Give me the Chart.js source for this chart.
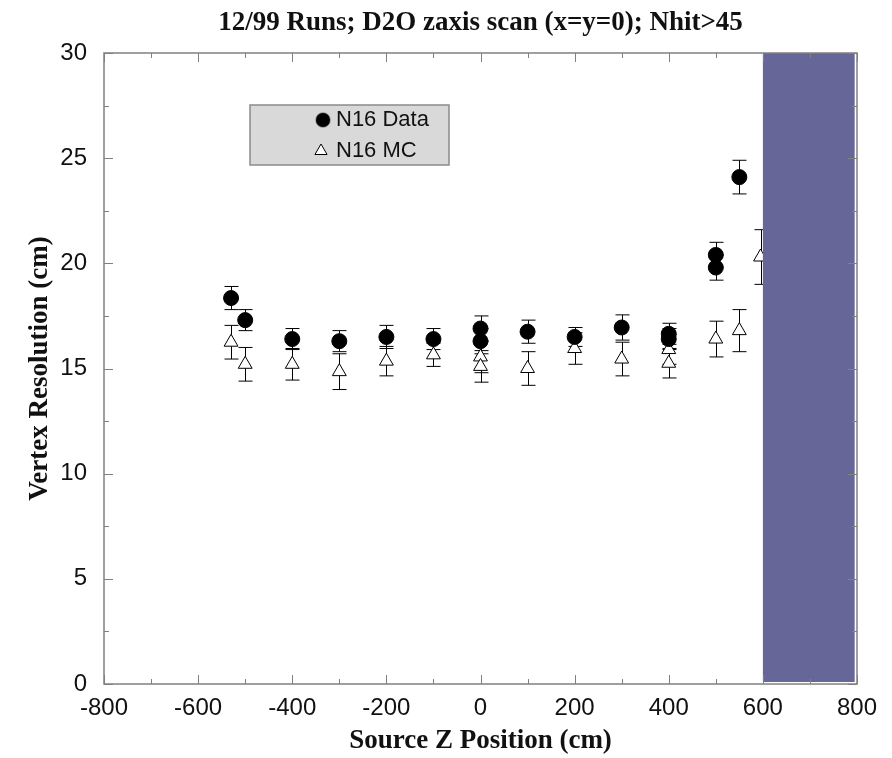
<!DOCTYPE html>
<html>
<head>
<meta charset="utf-8">
<script src="https://cdn.jsdelivr.net/npm/chart.js@4"></script>
<style>
  html, body { margin: 0; padding: 0; background: #fff; }
  #wrap { width: 892px; height: 758px; }
</style>
</head>
<body>
<div id="wrap"><canvas id="chart" width="892" height="758"></canvas></div>
<script>
// N16 data points (z position in cm, resolution in cm, error)
const dataZ   = [-530, -500, -400, -300, -200, -100, 0, 0, 100, 200, 300, 400, 400, 500, 500, 550];
const dataRes = [18.35, 17.3, 16.4, 16.3, 16.5, 16.4, 16.9, 16.3, 16.75, 16.5, 16.95, 16.65, 16.4, 20.4, 19.8, 24.1];
const dataErr = [0.55, 0.5, 0.5, 0.5, 0.55, 0.5, 0.6, 0.6, 0.55, 0.45, 0.6, 0.5, 0.5, 0.6, 0.6, 0.8];

// N16 Monte Carlo
const mcZ   = [-530, -500, -400, -300, -200, -100, 0, 0, 100, 200, 300, 400, 400, 500, 550, 595];
const mcRes = [16.25, 15.2, 15.2, 14.85, 15.35, 15.65, 15.55, 15.1, 15.0, 15.95, 15.45, 15.9, 15.25, 16.4, 16.8, 20.3];
const mcErr = [0.8, 0.8, 0.75, 0.85, 0.7, 0.55, 0.75, 0.75, 0.8, 0.75, 0.8, 0.7, 0.7, 0.85, 1.0, 1.3];

// shaded region (outside the vessel)
const bandZ = [600, 795];
const bandRes = [0, 30];

const xTicks = [-800, -600, -400, -200, 0, 200, 400, 600, 800];
const yTicks = [0, 5, 10, 15, 20, 25, 30];

const titleText = '12/99 Runs; D2O zaxis scan (x=y=0); Nhit>45';

const sans = "'Liberation Sans', Arial, sans-serif";
const serif = "'Liberation Serif', 'Times New Roman', serif";

const toPts = (xs, ys) => xs.map((x, i) => ({ x: x, y: ys[i] }));

const errorBars = {
    id: 'errorBars',
    beforeDatasetsDraw(chart) {
        const { ctx, scales: { x, y } } = chart;
        ctx.save();
        ctx.strokeStyle = '#000';
        ctx.lineWidth = 1;
        [[mcZ, mcRes, mcErr], [dataZ, dataRes, dataErr]].forEach(([zs, rs, es]) => {
            zs.forEach((z, i) => {
                const px = Math.round(x.getPixelForValue(z)) + 0.5;
                const top = y.getPixelForValue(rs[i] + es[i]);
                const bot = y.getPixelForValue(rs[i] - es[i]);
                ctx.beginPath();
                ctx.moveTo(px, top); ctx.lineTo(px, bot);
                ctx.moveTo(px - 7, top); ctx.lineTo(px + 7, top);
                ctx.moveTo(px - 7, bot); ctx.lineTo(px + 7, bot);
                ctx.stroke();
            });
        });
        ctx.restore();
    }
};

const frame = {
    id: 'frame',
    afterDatasetsDraw(chart) {
        const { ctx, chartArea: a, scales: { x, y } } = chart;
        ctx.save();
        // purple band
        ctx.fillStyle = '#666699';
        const bx0 = x.getPixelForValue(bandZ[0]), bx1 = x.getPixelForValue(bandZ[1]);
        const by0 = y.getPixelForValue(bandRes[1]), by1 = y.getPixelForValue(bandRes[0]);
        ctx.fillRect(bx0, by0, bx1 - bx0, by1 - by0 - 2);

        ctx.strokeStyle = '#808080';
        ctx.lineWidth = 1.5;
        ctx.strokeRect(a.left, a.top, a.right - a.left, a.bottom - a.top);

        // inward ticks on all four sides
        ctx.lineWidth = 1;
        ctx.beginPath();
        for (let v = -800; v <= 800; v += 100) {
            const px = Math.round(x.getPixelForValue(v)) + 0.5;
            const len = v % 200 === 0 ? 9 : 5;
            ctx.moveTo(px, a.bottom); ctx.lineTo(px, a.bottom - len);
            ctx.moveTo(px, a.top); ctx.lineTo(px, a.top + len);
        }
        for (let v = 0; v <= 30; v += 2.5) {
            const py = Math.round(y.getPixelForValue(v)) + 0.5;
            const len = v % 5 === 0 ? 9 : 5;
            ctx.moveTo(a.left, py); ctx.lineTo(a.left + len, py);
            ctx.moveTo(a.right, py); ctx.lineTo(a.right - len, py);
        }
        ctx.stroke();

        // title, centred over the plot frame
        ctx.fillStyle = '#111';
        ctx.font = 'bold 27px ' + serif;
        ctx.textAlign = 'center';
        ctx.textBaseline = 'middle';
        ctx.fillText(titleText, (a.left + a.right) / 2, 23);
        ctx.restore();
    }
};

const legendBox = {
    id: 'legendBox',
    afterDraw(chart) {
        const { ctx } = chart;
        ctx.save();
        ctx.fillStyle = '#d9d9d9';
        ctx.fillRect(250, 105, 199, 60);
        ctx.strokeStyle = '#8a8a8a';
        ctx.lineWidth = 1.5;
        ctx.strokeRect(250, 105, 199, 60);
        Chart.helpers.drawPoint(ctx, { pointStyle: 'circle', radius: 7, borderWidth: 1 }, 323, 120);
        ctx.fillStyle = '#000';
        ctx.fill();
        ctx.fillStyle = '#fff';
        ctx.strokeStyle = '#000';
        ctx.lineWidth = 1;
        Chart.helpers.drawPoint(ctx, { pointStyle: 'triangle', radius: 7, borderWidth: 1 }, 321, 151);
        ctx.fillStyle = '#111';
        ctx.font = '22px ' + sans;
        ctx.textBaseline = 'middle';
        ctx.fillText(chart.data.datasets[0].label, 336, 120);
        ctx.fillText(chart.data.datasets[1].label, 336, 151);
        ctx.restore();
    }
};

new Chart(document.getElementById('chart'), {
    type: 'scatter',
    data: {
        datasets: [
            { label: 'N16 Data', data: toPts(dataZ, dataRes), pointStyle: 'circle', pointRadius: 7.5,
              backgroundColor: '#000', borderColor: '#000', borderWidth: 1 },
            { label: 'N16 MC', data: toPts(mcZ, mcRes), pointStyle: 'triangle', pointRadius: 8,
              backgroundColor: '#fff', borderColor: '#000', borderWidth: 1 }
        ]
    },
    options: {
        responsive: false,
        animation: false,
        events: [],
        layout: { padding: { left: 0, right: 35, top: 53, bottom: 0 } },
        plugins: {
            legend: { display: false },
            tooltip: { enabled: false },
            title: { display: false }
        },
        scales: {
            x: {
                type: 'linear', min: -800, max: 800,
                afterBuildTicks: s => { s.ticks = xTicks.map(v => ({ value: v })); },
                afterFit: s => { s.height = 74; },
                grid: { display: false, drawTicks: false }, border: { display: false },
                ticks: { color: '#111', font: { family: sans, size: 24 }, padding: 10, maxRotation: 0, autoSkip: false },
                title: { display: true, text: 'Source Z Position (cm)', color: '#111',
                         font: { family: serif, size: 27, weight: 'bold', lineHeight: 1.2 }, padding: { top: 0, bottom: 1 } }
            },
            y: {
                min: 0, max: 30,
                afterBuildTicks: s => { s.ticks = yTicks.map(v => ({ value: v })); },
                afterFit: s => { s.width = 104; },
                grid: { display: false, drawTicks: false }, border: { display: false },
                ticks: { color: '#111', font: { family: sans, size: 24 }, padding: 17 },
                title: { display: true, text: 'Vertex Resolution (cm)', color: '#111',
                         font: { family: serif, size: 27, weight: 'bold', lineHeight: 1.2 }, padding: { top: 24, bottom: 0 } }
            }
        }
    },
    plugins: [errorBars, frame, legendBox]
});
</script>
</body>
</html>
